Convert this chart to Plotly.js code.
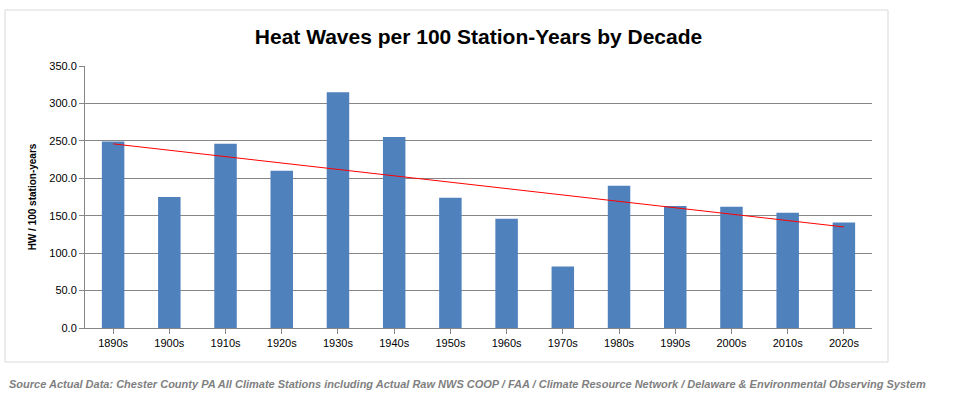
<!DOCTYPE html>
<html>
<head>
<script src="https://cdn.plot.ly/plotly-3.0.1.min.js"></script>
<style>body{margin:0;background:#fff}</style>
</head>
<body>
<div id="chart" style="width:975px;height:407px"></div>
<script>
const decades = ["1890s","1900s","1910s","1920s","1930s","1940s","1950s","1960s","1970s","1980s","1990s","2000s","2010s","2020s"];
const heatWaves = [249, 175, 246, 210, 315, 255, 174, 146, 82, 190, 163, 162, 154, 141];
const trendEnds = [246, 135];

// paper coords of the outer chart frame
const px = v => (v - 85) / 787;
const py = v => (328 - v) / 262;

Plotly.newPlot('chart', [{
    type: 'bar',
    x: decades,
    y: heatWaves,
    width: 0.4,
    marker: {color: '#4f81bd'},
    hoverinfo: 'x+y'
}, {
    type: 'scatter',
    mode: 'lines',
    x: [decades[0], decades[decades.length-1]],
    y: trendEnds,
    line: {color: '#ff0000', width: 1}
}], {
    width: 975, height: 407,
    margin: {l: 85, r: 103, t: 66, b: 79},
    showlegend: false,
    paper_bgcolor: '#fff',
    plot_bgcolor: '#fff',
    font: {family: 'Arial, Liberation Sans, sans-serif', size: 11, color: '#000'},
    title: {text: '<b>Heat Waves per 100 Station-Years by Decade</b>', font: {size: 21}, x: 0.5, xref: 'paper', y: 0.91, yanchor: 'middle'},
    xaxis: {showline: true, linecolor: '#868686', ticks: 'outside', ticklen: 5, tickcolor: '#868686', fixedrange: true},
    yaxis: {range: [0, 350], dtick: 50, tickformat: '.1f', gridcolor: '#868686', showline: true, linecolor: '#868686',
            ticks: 'outside', ticklen: 5, tickcolor: '#868686', zeroline: false,
            title: {text: '<b>HW / 100 station-years</b>', font: {size: 10}, standoff: 10}},
    shapes: [{type: 'rect', xref: 'paper', yref: 'paper', x0: px(5), x1: px(888), y0: py(362), y1: py(10),
              line: {color: '#d9d9d9', width: 1}, layer: 'below'}],
    annotations: [{xref: 'paper', yref: 'paper', x: px(7), y: py(384), xanchor: 'left', yanchor: 'middle', showarrow: false,
        text: '<b><i>Source Actual Data: Chester County PA All Climate Stations including Actual Raw NWS COOP / FAA / Climate Resource Network / Delaware & Environmental Observing System</i></b>',
        font: {size: 11, color: '#7f7f7f'}}]
}, {displayModeBar: false});
</script>
</body>
</html>
